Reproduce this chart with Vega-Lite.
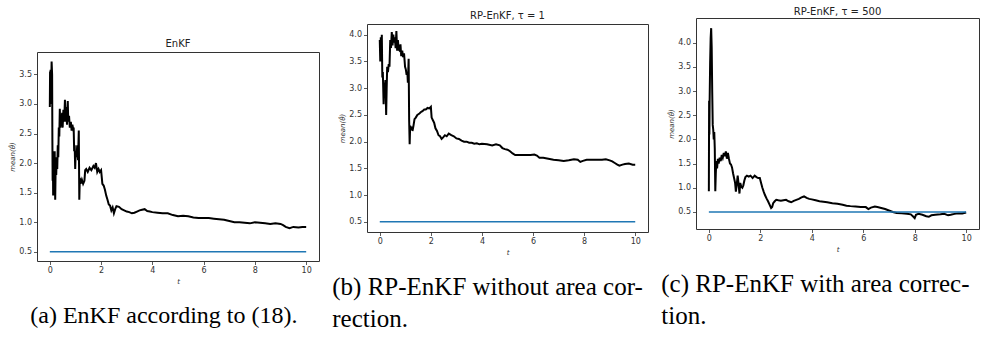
{
  "$schema": "https://vega.github.io/schema/vega-lite/v6.json",
  "padding": {"left": 8, "top": 5, "right": 0, "bottom": 0},
  "background": "white",
  "datasets": {
    "enkf": [
      {"t":0.00,"v":2.95},{"t":0.01,"v":3.55},{"t":0.02,"v":3.0},{"t":0.03,"v":3.58},{"t":0.05,"v":3.2},{"t":0.07,"v":3.72},{"t":0.09,"v":3.5},{"t":0.10,"v":2.4},{"t":0.11,"v":1.7},{"t":0.12,"v":2.2},{"t":0.13,"v":1.45},{"t":0.15,"v":2.1},{"t":0.17,"v":1.6},{"t":0.19,"v":2.2},{"t":0.21,"v":1.38},{"t":0.23,"v":2.0},{"t":0.25,"v":1.8},{"t":0.27,"v":2.1},{"t":0.29,"v":1.9},{"t":0.31,"v":2.3},{"t":0.33,"v":2.1},{"t":0.35,"v":2.6},{"t":0.37,"v":2.45},{"t":0.39,"v":2.92},{"t":0.41,"v":2.6},{"t":0.43,"v":2.75},{"t":0.45,"v":2.62},{"t":0.48,"v":2.85},{"t":0.50,"v":2.6},{"t":0.53,"v":2.9},{"t":0.56,"v":2.7},{"t":0.59,"v":3.07},{"t":0.62,"v":2.7},{"t":0.64,"v":2.95},{"t":0.67,"v":2.65},{"t":0.70,"v":3.05},{"t":0.72,"v":2.7},{"t":0.75,"v":2.8},{"t":0.78,"v":2.6},{"t":0.82,"v":2.7},{"t":0.85,"v":2.55},{"t":0.88,"v":2.65},{"t":0.91,"v":2.58},{"t":0.93,"v":2.6},{"t":0.95,"v":2.2},{"t":0.97,"v":2.3},{"t":0.99,"v":1.9},{"t":1.01,"v":2.2},{"t":1.04,"v":2.1},{"t":1.07,"v":2.3},{"t":1.10,"v":2.05},{"t":1.13,"v":2.55},{"t":1.15,"v":1.38},{"t":1.17,"v":1.75},{"t":1.20,"v":1.65},{"t":1.25,"v":1.72},{"t":1.30,"v":1.65},{"t":1.35,"v":1.7},{"t":1.38,"v":1.88},{"t":1.42,"v":1.9},{"t":1.48,"v":1.85},{"t":1.55,"v":1.92},{"t":1.62,"v":1.88},{"t":1.70,"v":1.95},{"t":1.75,"v":1.92},{"t":1.80,"v":2.0},{"t":1.85,"v":1.85},{"t":1.90,"v":1.9},{"t":1.95,"v":1.85},{"t":2.00,"v":1.88},{"t":2.05,"v":1.65},{"t":2.10,"v":1.62},{"t":2.15,"v":1.55},{"t":2.20,"v":1.45},{"t":2.25,"v":1.38},{"t":2.30,"v":1.3},{"t":2.35,"v":1.28},{"t":2.40,"v":1.2},{"t":2.45,"v":1.25},{"t":2.50,"v":1.15},{"t":2.55,"v":1.22},{"t":2.60,"v":1.27},{"t":2.70,"v":1.26},{"t":2.80,"v":1.22},{"t":2.90,"v":1.2},{"t":3.00,"v":1.18},{"t":3.10,"v":1.17},{"t":3.20,"v":1.15},{"t":3.30,"v":1.16},{"t":3.40,"v":1.18},{"t":3.50,"v":1.2},{"t":3.60,"v":1.21},{"t":3.70,"v":1.22},{"t":3.80,"v":1.19},{"t":3.90,"v":1.18},{"t":4.00,"v":1.17},{"t":4.20,"v":1.16},{"t":4.40,"v":1.15},{"t":4.60,"v":1.15},{"t":4.80,"v":1.12},{"t":5.00,"v":1.1},{"t":5.20,"v":1.11},{"t":5.40,"v":1.1},{"t":5.60,"v":1.08},{"t":5.80,"v":1.07},{"t":6.00,"v":1.07},{"t":6.20,"v":1.07},{"t":6.40,"v":1.06},{"t":6.60,"v":1.05},{"t":6.80,"v":1.04},{"t":7.00,"v":1.02},{"t":7.20,"v":1.0},{"t":7.40,"v":1.0},{"t":7.60,"v":0.99},{"t":7.80,"v":0.98},{"t":8.00,"v":1.0},{"t":8.20,"v":0.99},{"t":8.40,"v":0.98},{"t":8.60,"v":0.97},{"t":8.80,"v":0.98},{"t":9.00,"v":0.97},{"t":9.10,"v":0.95},{"t":9.20,"v":0.92},{"t":9.35,"v":0.9},{"t":9.50,"v":0.92},{"t":9.70,"v":0.91},{"t":9.85,"v":0.92},{"t":10.00,"v":0.92}
    ],
    "rp1": [
      {"t":0.00,"v":3.9},{"t":0.02,"v":3.5},{"t":0.04,"v":3.95},{"t":0.06,"v":3.6},{"t":0.08,"v":4.0},{"t":0.10,"v":3.2},{"t":0.12,"v":3.3},{"t":0.15,"v":2.7},{"t":0.17,"v":3.1},{"t":0.19,"v":2.9},{"t":0.22,"v":3.15},{"t":0.25,"v":2.5},{"t":0.27,"v":3.0},{"t":0.29,"v":3.4},{"t":0.32,"v":3.3},{"t":0.35,"v":3.45},{"t":0.38,"v":3.4},{"t":0.41,"v":3.9},{"t":0.44,"v":3.75},{"t":0.47,"v":4.05},{"t":0.50,"v":3.8},{"t":0.53,"v":4.0},{"t":0.56,"v":3.85},{"t":0.59,"v":3.95},{"t":0.62,"v":3.75},{"t":0.65,"v":4.07},{"t":0.68,"v":3.7},{"t":0.71,"v":3.9},{"t":0.74,"v":3.72},{"t":0.78,"v":3.7},{"t":0.81,"v":3.82},{"t":0.84,"v":3.6},{"t":0.88,"v":3.7},{"t":0.91,"v":3.58},{"t":0.95,"v":3.65},{"t":0.99,"v":3.4},{"t":1.02,"v":3.35},{"t":1.05,"v":3.25},{"t":1.08,"v":3.3},{"t":1.10,"v":3.1},{"t":1.13,"v":3.55},{"t":1.15,"v":2.4},{"t":1.17,"v":1.95},{"t":1.19,"v":2.3},{"t":1.22,"v":2.22},{"t":1.25,"v":2.28},{"t":1.28,"v":2.2},{"t":1.32,"v":2.3},{"t":1.36,"v":2.42},{"t":1.41,"v":2.45},{"t":1.47,"v":2.5},{"t":1.54,"v":2.52},{"t":1.60,"v":2.55},{"t":1.67,"v":2.57},{"t":1.74,"v":2.6},{"t":1.80,"v":2.6},{"t":1.87,"v":2.63},{"t":1.94,"v":2.62},{"t":2.00,"v":2.65},{"t":2.03,"v":2.45},{"t":2.08,"v":2.4},{"t":2.13,"v":2.35},{"t":2.18,"v":2.25},{"t":2.24,"v":2.2},{"t":2.30,"v":2.12},{"t":2.36,"v":2.1},{"t":2.42,"v":2.05},{"t":2.48,"v":2.08},{"t":2.55,"v":2.12},{"t":2.62,"v":2.1},{"t":2.70,"v":2.15},{"t":2.80,"v":2.12},{"t":2.90,"v":2.1},{"t":3.00,"v":2.06},{"t":3.10,"v":2.05},{"t":3.20,"v":2.02},{"t":3.30,"v":2.0},{"t":3.40,"v":2.0},{"t":3.50,"v":1.98},{"t":3.60,"v":1.98},{"t":3.70,"v":1.96},{"t":3.80,"v":1.97},{"t":3.90,"v":1.95},{"t":4.00,"v":1.96},{"t":4.20,"v":1.95},{"t":4.40,"v":1.93},{"t":4.55,"v":1.95},{"t":4.70,"v":1.93},{"t":4.80,"v":1.88},{"t":4.90,"v":1.86},{"t":5.00,"v":1.85},{"t":5.10,"v":1.82},{"t":5.20,"v":1.78},{"t":5.30,"v":1.75},{"t":5.50,"v":1.75},{"t":5.70,"v":1.75},{"t":5.90,"v":1.75},{"t":6.05,"v":1.76},{"t":6.15,"v":1.74},{"t":6.25,"v":1.7},{"t":6.40,"v":1.7},{"t":6.60,"v":1.68},{"t":6.80,"v":1.66},{"t":7.00,"v":1.65},{"t":7.20,"v":1.64},{"t":7.40,"v":1.65},{"t":7.60,"v":1.67},{"t":7.75,"v":1.66},{"t":7.85,"v":1.62},{"t":7.95,"v":1.64},{"t":8.10,"v":1.66},{"t":8.30,"v":1.66},{"t":8.50,"v":1.66},{"t":8.70,"v":1.66},{"t":8.85,"v":1.67},{"t":9.00,"v":1.65},{"t":9.10,"v":1.63},{"t":9.20,"v":1.6},{"t":9.30,"v":1.57},{"t":9.38,"v":1.55},{"t":9.50,"v":1.57},{"t":9.60,"v":1.58},{"t":9.75,"v":1.59},{"t":9.90,"v":1.57},{"t":10.00,"v":1.57}
    ],
    "rp500": [
      {"t":0.00,"v":0.93},{"t":0.01,"v":2.8},{"t":0.02,"v":2.1},{"t":0.03,"v":2.8},{"t":0.05,"v":3.6},{"t":0.07,"v":4.1},{"t":0.09,"v":4.3},{"t":0.11,"v":3.9},{"t":0.13,"v":3.0},{"t":0.15,"v":2.3},{"t":0.17,"v":2.2},{"t":0.19,"v":2.0},{"t":0.21,"v":2.15},{"t":0.23,"v":1.8},{"t":0.25,"v":0.93},{"t":0.27,"v":1.3},{"t":0.29,"v":1.55},{"t":0.32,"v":1.4},{"t":0.35,"v":1.6},{"t":0.38,"v":1.5},{"t":0.42,"v":1.62},{"t":0.46,"v":1.55},{"t":0.50,"v":1.68},{"t":0.54,"v":1.62},{"t":0.58,"v":1.72},{"t":0.62,"v":1.65},{"t":0.66,"v":1.75},{"t":0.70,"v":1.6},{"t":0.74,"v":1.72},{"t":0.78,"v":1.6},{"t":0.82,"v":1.5},{"t":0.86,"v":1.48},{"t":0.90,"v":1.42},{"t":0.94,"v":1.3},{"t":0.98,"v":1.2},{"t":1.02,"v":1.1},{"t":1.05,"v":0.92},{"t":1.08,"v":1.05},{"t":1.12,"v":1.25},{"t":1.15,"v":1.1},{"t":1.19,"v":0.88},{"t":1.22,"v":1.1},{"t":1.26,"v":1.02},{"t":1.30,"v":1.0},{"t":1.34,"v":1.05},{"t":1.38,"v":1.15},{"t":1.42,"v":1.22},{"t":1.48,"v":1.25},{"t":1.55,"v":1.23},{"t":1.62,"v":1.25},{"t":1.70,"v":1.2},{"t":1.78,"v":1.25},{"t":1.85,"v":1.22},{"t":1.92,"v":1.2},{"t":1.98,"v":1.2},{"t":2.03,"v":1.1},{"t":2.08,"v":1.0},{"t":2.13,"v":0.92},{"t":2.18,"v":0.85},{"t":2.24,"v":0.78},{"t":2.30,"v":0.72},{"t":2.36,"v":0.65},{"t":2.42,"v":0.58},{"t":2.46,"v":0.6},{"t":2.50,"v":0.68},{"t":2.56,"v":0.72},{"t":2.62,"v":0.75},{"t":2.70,"v":0.74},{"t":2.80,"v":0.73},{"t":2.90,"v":0.74},{"t":3.00,"v":0.75},{"t":3.10,"v":0.72},{"t":3.20,"v":0.7},{"t":3.30,"v":0.73},{"t":3.40,"v":0.75},{"t":3.50,"v":0.77},{"t":3.60,"v":0.8},{"t":3.70,"v":0.82},{"t":3.80,"v":0.79},{"t":3.90,"v":0.77},{"t":4.00,"v":0.76},{"t":4.15,"v":0.74},{"t":4.30,"v":0.72},{"t":4.45,"v":0.71},{"t":4.60,"v":0.7},{"t":4.80,"v":0.68},{"t":5.00,"v":0.67},{"t":5.20,"v":0.65},{"t":5.35,"v":0.63},{"t":5.50,"v":0.62},{"t":5.70,"v":0.61},{"t":5.90,"v":0.6},{"t":6.10,"v":0.6},{"t":6.20,"v":0.56},{"t":6.30,"v":0.59},{"t":6.45,"v":0.61},{"t":6.55,"v":0.6},{"t":6.70,"v":0.58},{"t":6.85,"v":0.56},{"t":7.00,"v":0.53},{"t":7.15,"v":0.5},{"t":7.30,"v":0.48},{"t":7.50,"v":0.47},{"t":7.70,"v":0.46},{"t":7.85,"v":0.45},{"t":7.95,"v":0.4},{"t":8.00,"v":0.37},{"t":8.05,"v":0.44},{"t":8.15,"v":0.46},{"t":8.30,"v":0.44},{"t":8.45,"v":0.41},{"t":8.55,"v":0.4},{"t":8.65,"v":0.43},{"t":8.80,"v":0.44},{"t":9.00,"v":0.45},{"t":9.15,"v":0.46},{"t":9.30,"v":0.43},{"t":9.40,"v":0.44},{"t":9.55,"v":0.46},{"t":9.70,"v":0.47},{"t":9.85,"v":0.47},{"t":10.00,"v":0.49}
    ],
    "truth": [{"t":0,"v":0.5},{"t":10,"v":0.5}],
    "blank": [{"s":""}]
  },
  "hconcat": [
    {
      "title": {"text": "(a) EnKF according to (18).", "orient": "bottom", "anchor": "middle", "font": "Liberation Serif, Times New Roman, serif", "fontSize": 24, "color": "black", "fontWeight": "normal", "offset": 19},
      "spacing": 0,
      "vconcat": [
        {"width": 1, "height": 33, "data": {"name": "blank"}, "mark": {"type": "text", "fontSize": 0.1, "baseline": "top"}, "encoding": {"text": {"field": "s"}}, "view": {"stroke": null}},
        {
          "width": 282, "height": 209,
          "title": {"text": "EnKF", "offset": 3},
          "encoding": {
            "x": {"field": "t", "type": "quantitative", "scale": {"domain": [-0.5, 10.5], "nice": false, "zero": false}, "axis": {"values": [0,2,4,6,8,10], "title": "t"}},
            "y": {"field": "v", "type": "quantitative", "scale": {"domain": [0.343, 3.88], "nice": false, "zero": false}, "axis": {"values": [0.5,1,1.5,2,2.5,3,3.5], "format": ".1f", "title": "mean(θ̂)"}}
          },
          "layer": [
            {"data": {"name": "enkf"}, "mark": {"type": "line", "color": "black", "strokeWidth": 2, "clip": true}},
            {"data": {"name": "truth"}, "mark": {"type": "line", "color": "#1f77b4", "strokeWidth": 1.5}}
          ]
        }
      ]
    },
    {
      "title": {"text": ["(b) RP-EnKF without area cor-", "rection."], "orient": "bottom", "anchor": "start", "align": "left", "lineHeight": 32, "dx": -6, "font": "Liberation Serif, Times New Roman, serif", "fontSize": 25, "color": "black", "fontWeight": "normal", "offset": 19},
      "spacing": 0,
      "vconcat": [
        {"width": 1, "height": 5, "data": {"name": "blank"}, "mark": {"type": "text", "fontSize": 0.1, "baseline": "top"}, "encoding": {"text": {"field": "s"}}, "view": {"stroke": null}},
        {
          "width": 281, "height": 208,
          "title": {"text": "RP-EnKF, τ = 1", "offset": 3},
          "encoding": {
            "x": {"field": "t", "type": "quantitative", "scale": {"domain": [-0.5, 10.5], "nice": false, "zero": false}, "axis": {"values": [0,2,4,6,8,10], "title": "t"}},
            "y": {"field": "v", "type": "quantitative", "scale": {"domain": [0.31, 4.2], "nice": false, "zero": false}, "axis": {"values": [0.5,1,1.5,2,2.5,3,3.5,4], "format": ".1f", "title": "mean(θ̂)"}}
          },
          "layer": [
            {"data": {"name": "rp1"}, "mark": {"type": "line", "color": "black", "strokeWidth": 2, "clip": true}},
            {"data": {"name": "truth"}, "mark": {"type": "line", "color": "#1f77b4", "strokeWidth": 1.5}}
          ]
        }
      ]
    },
    {
      "title": {"text": ["(c) RP-EnKF with area correc-", "tion."], "orient": "bottom", "anchor": "start", "align": "left", "lineHeight": 32, "dx": -6, "font": "Liberation Serif, Times New Roman, serif", "fontSize": 25, "color": "black", "fontWeight": "normal", "offset": 19},
      "spacing": 0,
      "vconcat": [
        {"width": 1, "height": 1, "data": {"name": "blank"}, "mark": {"type": "text", "fontSize": 0.1, "baseline": "top"}, "encoding": {"text": {"field": "s"}}, "view": {"stroke": null}},
        {
          "width": 283, "height": 211,
          "title": {"text": "RP-EnKF, τ = 500", "offset": 1},
          "encoding": {
            "x": {"field": "t", "type": "quantitative", "scale": {"domain": [-0.5, 10.5], "nice": false, "zero": false}, "axis": {"values": [0,2,4,6,8,10], "title": "t"}},
            "y": {"field": "v", "type": "quantitative", "scale": {"domain": [0.147, 4.51], "nice": false, "zero": false}, "axis": {"values": [0.5,1,1.5,2,2.5,3,3.5,4], "format": ".1f", "title": "mean(θ̂)"}}
          },
          "layer": [
            {"data": {"name": "rp500"}, "mark": {"type": "line", "color": "black", "strokeWidth": 2, "clip": true}},
            {"data": {"name": "truth"}, "mark": {"type": "line", "color": "#1f77b4", "strokeWidth": 1.5}}
          ]
        }
      ]
    }
  ],
  "spacing": 12,
  "config": {
    "view": {"stroke": "#333", "strokeWidth": 1},
    "axis": {"domain": false, "grid": false, "tickColor": "#333", "tickSize": 3.5, "tickWidth": 0.8, "labelFont": "DejaVu Sans", "labelFontSize": 8, "labelColor": "#333", "titleFont": "DejaVu Sans", "titleFontSize": 7, "titleFontStyle": "italic", "titleFontWeight": "normal", "titleColor": "#333", "labelPadding": 2, "titlePadding": 3},
    "title": {"font": "DejaVu Sans", "fontSize": 10, "fontWeight": "normal", "color": "#222"}
  }
}
